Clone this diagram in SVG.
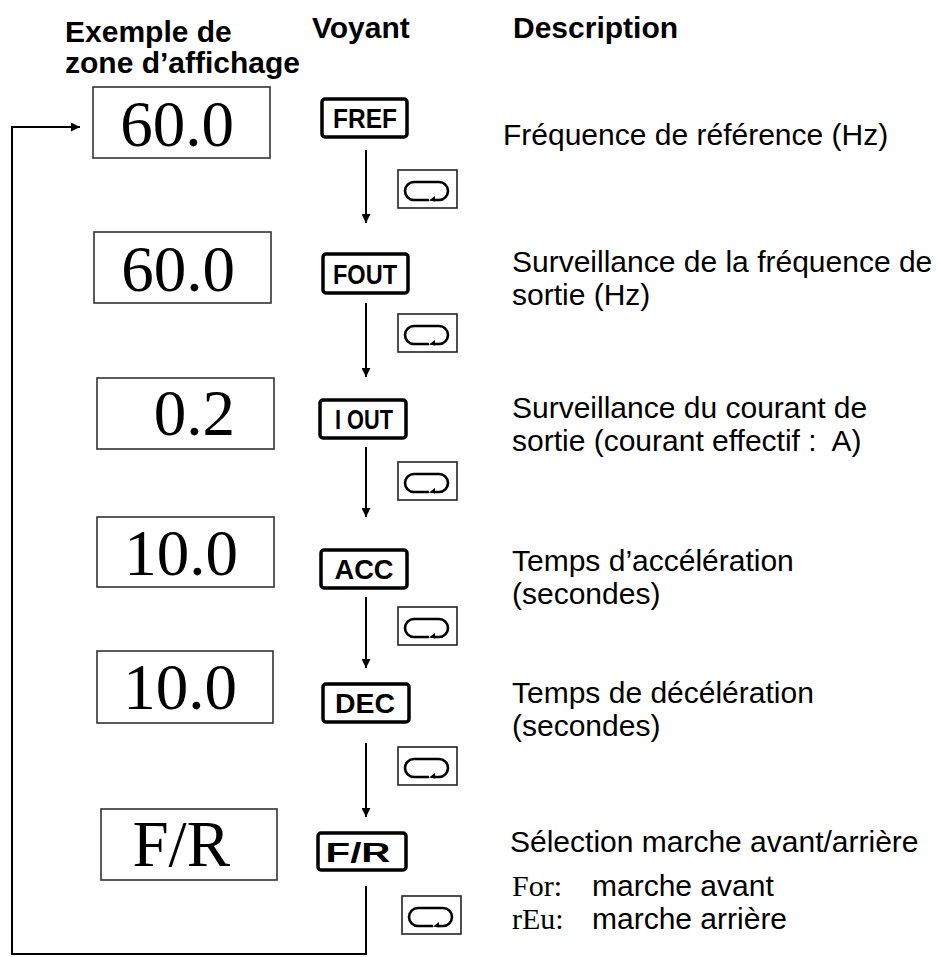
<svg xmlns="http://www.w3.org/2000/svg" xmlns:xlink="http://www.w3.org/1999/xlink" width="939" height="957" viewBox="0 0 939 957">
<style>
.hdr{font-family:"Liberation Sans",Arial,sans-serif;font-weight:bold;font-size:30px;fill:#000}
.desc{font-family:"Liberation Sans",Arial,sans-serif;font-size:30px;fill:#000;white-space:pre}
.ser{font-family:"Liberation Serif","Times New Roman",serif;font-size:30px;fill:#000}
.disp{fill:#fff;stroke:#333;stroke-width:1.6}
.val{font-family:"Liberation Serif","Times New Roman",serif;font-size:65px;fill:#000;text-anchor:end}
.lamp{fill:#fff;stroke:#000;stroke-width:3.5}
.lt{font-family:"Liberation Sans",Arial,sans-serif;font-size:27px;font-weight:bold;fill:#000;text-anchor:middle}
.btn{fill:#fff;stroke:#222;stroke-width:1.6}
.conn{fill:none;stroke:#000;stroke-width:2}
</style>
<defs>
<marker id="ah" viewBox="0 0 10 10" refX="10" refY="5" markerWidth="4.5" markerHeight="4.5" orient="auto" markerUnits="strokeWidth">
<path d="M0,0 L10,5 L0,10 z" fill="#000"/>
</marker>
<g id="cyc">
<rect class="btn" x="0" y="0" width="59" height="38"/>
<path d="M31 30 H16 A9 9 0 0 1 16 12 H41 A9 9 0 0 1 41 30 H36" fill="none" stroke="#000" stroke-width="2.6"/>
<path d="M31 30.5 L37 26 L37 31.5 z" fill="#000"/>
</g>
</defs>

<g id="headers">
<text class="hdr" x="65" y="42">Exemple de</text>
<text class="hdr" x="65" y="73">zone d’affichage</text>
<text class="hdr" x="312" y="38">Voyant</text>
<text class="hdr" x="513" y="38">Description</text>
</g>

<g id="connectors">
<line class="conn" x1="366" y1="150" x2="366" y2="223" marker-end="url(#ah)"/>
<line class="conn" x1="366" y1="303" x2="366" y2="377" marker-end="url(#ah)"/>
<line class="conn" x1="366" y1="447" x2="366" y2="517" marker-end="url(#ah)"/>
<line class="conn" x1="366" y1="597" x2="366" y2="668" marker-end="url(#ah)"/>
<line class="conn" x1="366" y1="743" x2="366" y2="817" marker-end="url(#ah)"/>
<path class="conn" d="M366 886 V954 H12 V127 H80" marker-end="url(#ah)"/>
</g>

<g id="row1">
<rect class="disp" x="93" y="87" width="177" height="71"/>
<text class="val" x="234" y="146">60.0</text>
<rect class="lamp" x="322" y="99" width="85" height="38" rx="3"/>
<text class="lt" x="365" y="128" textLength="64" lengthAdjust="spacingAndGlyphs">FREF</text>
<use xlink:href="#cyc" x="398" y="170"/>
<text class="desc" x="503" y="145">Fréquence de référence (Hz)</text>
</g>

<g id="row2">
<rect class="disp" x="94" y="232" width="177" height="71"/>
<text class="val" x="235" y="291">60.0</text>
<rect class="lamp" x="323" y="254" width="85" height="39" rx="3"/>
<text class="lt" x="365" y="284" textLength="64" lengthAdjust="spacingAndGlyphs">FOUT</text>
<use xlink:href="#cyc" x="398" y="314"/>
<text class="desc" x="512" y="272">Surveillance de la fréquence de</text>
<text class="desc" x="512" y="305">sortie (Hz)</text>
</g>

<g id="row3">
<rect class="disp" x="97" y="378" width="177" height="71"/>
<text class="val" x="235" y="435">0.2</text>
<rect class="lamp" x="320" y="400" width="86" height="38" rx="3"/>
<text class="lt" x="364" y="429" textLength="58" lengthAdjust="spacingAndGlyphs">I OUT</text>
<use xlink:href="#cyc" x="398" y="462"/>
<text class="desc" x="512" y="418">Surveillance du courant de</text>
<text class="desc" x="512" y="451">sortie (courant effectif :  A)</text>
</g>

<g id="row4">
<rect class="disp" x="97" y="517" width="177" height="70"/>
<text class="val" x="238" y="575">10.0</text>
<rect class="lamp" x="321" y="550" width="86" height="38" rx="3"/>
<text class="lt" x="364" y="579" textLength="59" lengthAdjust="spacingAndGlyphs">ACC</text>
<use xlink:href="#cyc" x="398" y="607"/>
<text class="desc" x="512" y="571">Temps d’accélération</text>
<text class="desc" x="512" y="604">(secondes)</text>
</g>

<g id="row5">
<rect class="disp" x="97" y="651" width="176" height="72"/>
<text class="val" x="237" y="709">10.0</text>
<rect class="lamp" x="323" y="684" width="86" height="38" rx="3"/>
<text class="lt" x="365" y="713" textLength="60" lengthAdjust="spacingAndGlyphs">DEC</text>
<use xlink:href="#cyc" x="398" y="747"/>
<text class="desc" x="512" y="703">Temps de décélération</text>
<text class="desc" x="512" y="736">(secondes)</text>
</g>

<g id="row6">
<rect class="disp" x="101" y="809" width="176" height="71"/>
<text class="val" x="230" y="866">F/R</text>
<rect class="lamp" x="318" y="833" width="88" height="37" rx="3"/>
<text class="lt" x="358" y="862" textLength="65" lengthAdjust="spacingAndGlyphs">F/R</text>
<use xlink:href="#cyc" x="402" y="896"/>
<text class="desc" x="510" y="852">Sélection marche avant/arrière</text>
<text class="ser" x="512" y="896">For:</text>
<text class="desc" x="592" y="896">marche avant</text>
<text class="ser" x="512" y="929">rEu:</text>
<text class="desc" x="592" y="929">marche arrière</text>
</g>
</svg>
